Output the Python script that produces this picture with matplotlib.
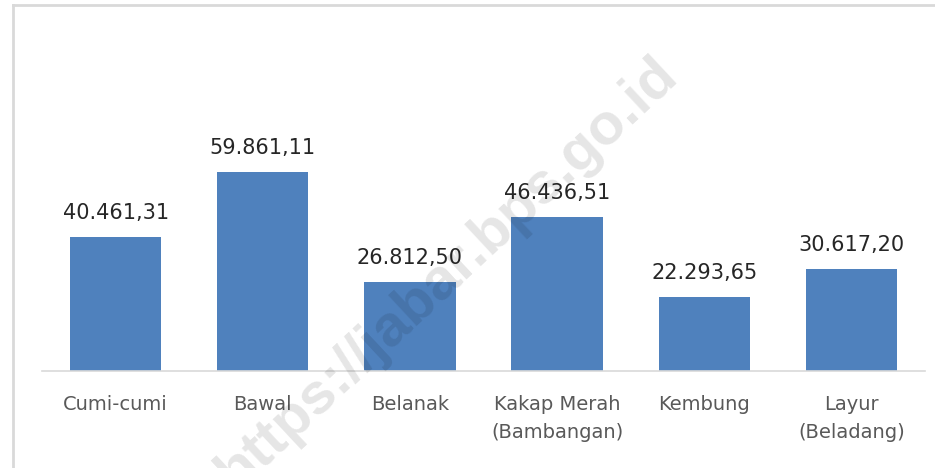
import matplotlib.pyplot as plt
from matplotlib.lines import Line2D

# data
categories = ['Cumi-cumi', 'Bawal', 'Belanak', 'Kakap Merah\n(Bambangan)', 'Kembung', 'Layur\n(Beladang)']
values = [40461.31, 59861.11, 26812.50, 46436.51, 22293.65, 30617.20]
value_labels = ['40.461,31', '59.861,11', '26.812,50', '46.436,51', '22.293,65', '30.617,20']

bar_color = '#4F81BD'

fig = plt.figure(figsize=(9.35, 4.68), dpi=100)
ax = fig.add_axes([0.0449, 0.2073, 0.9444, 0.4965])

x = range(len(categories))
bars = ax.bar(x, values, width=0.62, color=bar_color, zorder=2)

# value labels above bars
for b, lab in zip(bars, value_labels):
    ax.annotate(lab, (b.get_x() + b.get_width() / 2, b.get_height()),
                xytext=(0, 13), textcoords='offset points',
                ha='center', va='baseline', fontsize=15, color='#262626')

ax.set_xlim(-0.5, len(categories) - 0.5)
ax.set_ylim(0, 70000)
ax.set_xticks(list(x))
ax.set_xticklabels(categories, fontsize=14, color='#595959', linespacing=1.6)
ax.tick_params(axis='x', length=0, pad=17)
ax.set_yticks([])
for side in ['top', 'right', 'left']:
    ax.spines[side].set_visible(False)
ax.spines['bottom'].set_color('#d9d9d9')
ax.spines['bottom'].set_linewidth(1.2)

# outer chart frame (only top and left edges are visible)
fig.add_artist(Line2D([13 / 935, 1], [1 - 5 / 468, 1 - 5 / 468], color='#d9d9d9', lw=2))
fig.add_artist(Line2D([13 / 935, 13 / 935], [0, 1 - 5 / 468], color='#d9d9d9', lw=2))

# watermark
fig.text(448 / 935, 1 - 273 / 468, 'https://jabar.bps.go.id', fontsize=42,
         fontfamily='Liberation Sans', fontweight='bold', color='black', alpha=0.1,
         rotation=43, rotation_mode='anchor', ha='center', va='center', zorder=5)

fig.savefig('out.png', dpi=100)
